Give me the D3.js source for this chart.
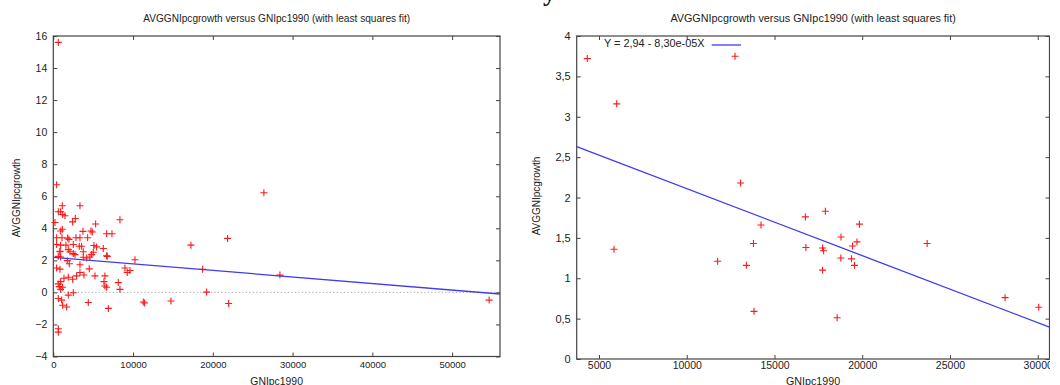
<!DOCTYPE html>
<html>
<head>
<meta charset="utf-8">
<script src="https://cdn.jsdelivr.net/npm/d3@7"></script>
<style>
  html, body { margin: 0; padding: 0; background: #fff; }
  svg { display: block; }
  text { font-family: "Liberation Sans", Arial, sans-serif; fill: #222; }
</style>
</head>
<body>
<svg id="chart" width="1060" height="385"></svg>
<script>
// ---------- DATA ----------
const leftGNI = [627,418,26400,1128,3342,627,919,1170,1462,8354,2757,2423,209,5305,919,1128,3718,4720,4887,6683,7352,
  418,1086,1796,1963,2840,3342,4303,21850,17250,418,919,1587,2506,3258,3550,5096,5430,6266,835,1880,2506,2715,4804,5013,
  6683,6767,627,919,3759,4177,4595,10234,1754,2005,3342,418,835,4511,8981,9273,9607,18720,28410,3342,3843,2924,5221,6474,
  1880,1337,2423,919,627,752,8145,6349,6474,6683,8354,919,1170,2506,19220,1880,627,1044,4386,1170,1671,6900,11280,11450,
  14750,21980,54640,627,627,840,2090,3760];
const leftGrowth = [15.6,6.72,6.22,5.41,5.41,5.03,5.03,4.86,4.78,4.53,4.61,4.40,4.36,4.27,3.83,3.94,3.81,3.83,3.77,3.66,3.66,
  3.41,3.41,3.39,3.31,3.41,3.41,3.41,3.37,2.95,2.99,2.95,2.95,2.99,2.88,2.88,2.93,2.84,2.74,2.57,2.67,2.42,2.36,2.36,2.51,
  2.29,2.25,2.25,2.21,2.19,2.15,2.21,2.04,1.98,1.79,1.73,1.52,1.45,1.47,1.52,1.24,1.37,1.44,1.08,1.24,1.09,1.03,1.03,1.03,
  0.95,0.88,0.82,0.67,0.53,0.36,0.61,0.67,0.40,0.32,0.19,0.19,0.32,-0.02,0.02,-0.17,-0.38,-0.48,-0.63,-0.80,-0.91,-1.0,-0.6,-0.66,
  -0.54,-0.69,-0.48,-2.27,-2.48,2.54,2.54,2.54];

const rightGNI = [4333,6009,12750,5855,13070,14232,16760,17900,19840,13800,16790,17740,17800,18790,19450,19700,23700,
  11760,13400,17740,18780,19390,19560,13830,18570,28140,30060];
const rightGrowth = [3.72,3.16,3.75,1.36,2.18,1.66,1.76,1.83,1.67,1.43,1.38,1.375,1.34,1.51,1.40,1.45,1.43,
  1.21,1.16,1.10,1.25,1.24,1.16,0.59,0.51,0.76,0.64];

// least squares fits: [intercept, slope]
const leftFit = [2.19, -4.09e-5];
const rightFit = [2.94, -8.30e-5];

const leftXTicks = [0, 10000, 20000, 30000, 40000, 50000];
const leftYTicks = [-4, -2, 0, 2, 4, 6, 8, 10, 12, 14, 16];
const rightXTicks = [5000, 10000, 15000, 20000, 25000, 30000];
const rightYTicks = [0, 0.5, 1, 1.5, 2, 2.5, 3, 3.5, 4];

const titleText = "AVGGNIpcgrowth versus GNIpc1990 (with least squares fit)";
const xLabelText = "GNIpc1990";
const yLabelText = "AVGGNIpcgrowth";
const legendText = "Y = 2,94 - 8,30e-05X";
const headingFragment = "y";

// ---------- DRAWING ----------
const svg = d3.select("#chart");
const commaFmt = d3.formatLocale({decimal: ",", thousands: "", grouping: [3], currency: ["", ""]}).format("~g");

svg.append("text").text(headingFragment)
  .attr("x", 543).attr("y", 1)
  .style("font-family", "'Liberation Serif', serif").style("font-weight", "bold")
  .style("font-size", "26px").style("fill", "#111");

svg.append("defs").append("clipPath").attr("id", "rclip")
  .append("rect").attr("x", 530).attr("y", 0).attr("width", 520).attr("height", 385);

function panel(g, cfg) {
  const x = d3.scaleLinear().domain(cfg.xDomain).range([cfg.left, cfg.right]);
  const y = d3.scaleLinear().domain(cfg.yDomain).range([cfg.bottom, cfg.top]);
  const frameColor = "#444";

  if (cfg.zeroLine) {
    g.append("line")
      .attr("x1", x(cfg.xDomain[0])).attr("x2", x(cfg.xDomain[1]))
      .attr("y1", y(0)).attr("y2", y(0))
      .attr("stroke", "#aaa").attr("stroke-width", 1).attr("stroke-dasharray", "1.3,2.2");
  }

  const styleAxis = (sel, fs) => {
    sel.select(".domain").remove();
    sel.selectAll(".tick line").attr("stroke", frameColor).attr("stroke-width", 1);
    sel.selectAll(".tick text").style("font-size", fs + "px").style("font-family", "'Liberation Sans', Arial, sans-serif").attr("fill", "#222");
  };
  g.append("g").attr("transform", `translate(0,${cfg.bottom})`)
    .call(d3.axisBottom(x).tickValues(cfg.xTicks).tickSize(-4).tickPadding(cfg.xPad).tickFormat(d3.format("d")))
    .call(s => styleAxis(s, cfg.xFont));
  g.append("g").attr("transform", `translate(0,${cfg.top})`)
    .call(d3.axisTop(x).tickValues(cfg.xTicks).tickSize(-4).tickFormat(""))
    .call(s => styleAxis(s, cfg.xFont));
  g.append("g").attr("transform", `translate(${cfg.left},0)`)
    .call(d3.axisLeft(y).tickValues(cfg.yTicks).tickSize(-4).tickPadding(6).tickFormat(commaFmt))
    .call(s => styleAxis(s, cfg.yFont));
  g.append("g").attr("transform", `translate(${cfg.right},0)`)
    .call(d3.axisRight(y).tickValues(cfg.yTicks).tickSize(-4).tickFormat(""))
    .call(s => styleAxis(s, cfg.yFont));

  g.append("rect")
    .attr("x", cfg.left).attr("y", cfg.top)
    .attr("width", cfg.right - cfg.left).attr("height", cfg.bottom - cfg.top)
    .attr("fill", "none").attr("stroke", frameColor).attr("stroke-width", 1.2);

  if (cfg.legend) {
    g.append("text").text(cfg.legend)
      .attr("x", cfg.legendX).attr("y", cfg.legendY)
      .style("font-size", "10.9px");
    g.append("line")
      .attr("x1", cfg.legendLineX[0]).attr("x2", cfg.legendLineX[1])
      .attr("y1", cfg.legendLineY).attr("y2", cfg.legendLineY)
      .attr("stroke", "#3c3cf0").attr("stroke-width", 1.3);
  }

  const pts = cfg.xs.map((v, i) => [v, cfg.ys[i]]);
  g.append("g").selectAll("path").data(pts).join("path")
    .attr("transform", d => `translate(${x(d[0])},${y(d[1])})`)
    .attr("d", "M-3.5,0H3.5M0,-3.5V3.5")
    .attr("stroke", "#ff1a1a").attr("stroke-width", 1.1).attr("fill", "none");

  const fx = cfg.xDomain;
  g.append("line")
    .attr("x1", x(fx[0])).attr("y1", y(cfg.fit[0] + cfg.fit[1] * fx[0]))
    .attr("x2", x(fx[1])).attr("y2", y(cfg.fit[0] + cfg.fit[1] * fx[1]))
    .attr("stroke", "#3c3cf0").attr("stroke-width", 1.3);

  g.append("text").text(titleText)
    .attr("x", (cfg.left + cfg.right) / 2).attr("y", 22)
    .attr("text-anchor", "middle").style("font-size", cfg.titleFont + "px");
  g.append("text").text(xLabelText)
    .attr("x", (cfg.left + cfg.right) / 2).attr("y", 385)
    .attr("text-anchor", "middle").style("font-size", cfg.labelFont + "px");
  g.append("text").text(yLabelText)
    .attr("transform", `translate(${cfg.yLabelX},${cfg.yLabelY}) rotate(-90)`)
    .attr("text-anchor", "middle").style("font-size", "10px");
}

panel(svg.append("g"), {
  xs: leftGNI, ys: leftGrowth, fit: leftFit,
  xDomain: [0, 56000], yDomain: [-4, 16],
  left: 53.3, right: 500, top: 36, bottom: 356.5,
  xTicks: leftXTicks, yTicks: leftYTicks,
  xPad: 5, xFont: 9.5, yFont: 10.5, titleFont: 10.1, labelFont: 10.4,
  yLabelX: 19.5, yLabelY: 198, zeroLine: true
});

panel(svg.append("g").attr("clip-path", "url(#rclip)"), {
  xs: rightGNI, ys: rightGrowth, fit: rightFit,
  xDomain: [3729, 30672], yDomain: [0, 4],
  left: 576.7, right: 1049.5, top: 36, bottom: 359,
  xTicks: rightXTicks, yTicks: rightYTicks,
  xPad: 3, xFont: 10.5, yFont: 11, titleFont: 10.8, labelFont: 10.7,
  yLabelX: 539.5, yLabelY: 196, zeroLine: false,
  legend: legendText, legendX: 604, legendY: 47, legendLineX: [711.7, 741], legendLineY: 45
});
</script>
</body>
</html>
